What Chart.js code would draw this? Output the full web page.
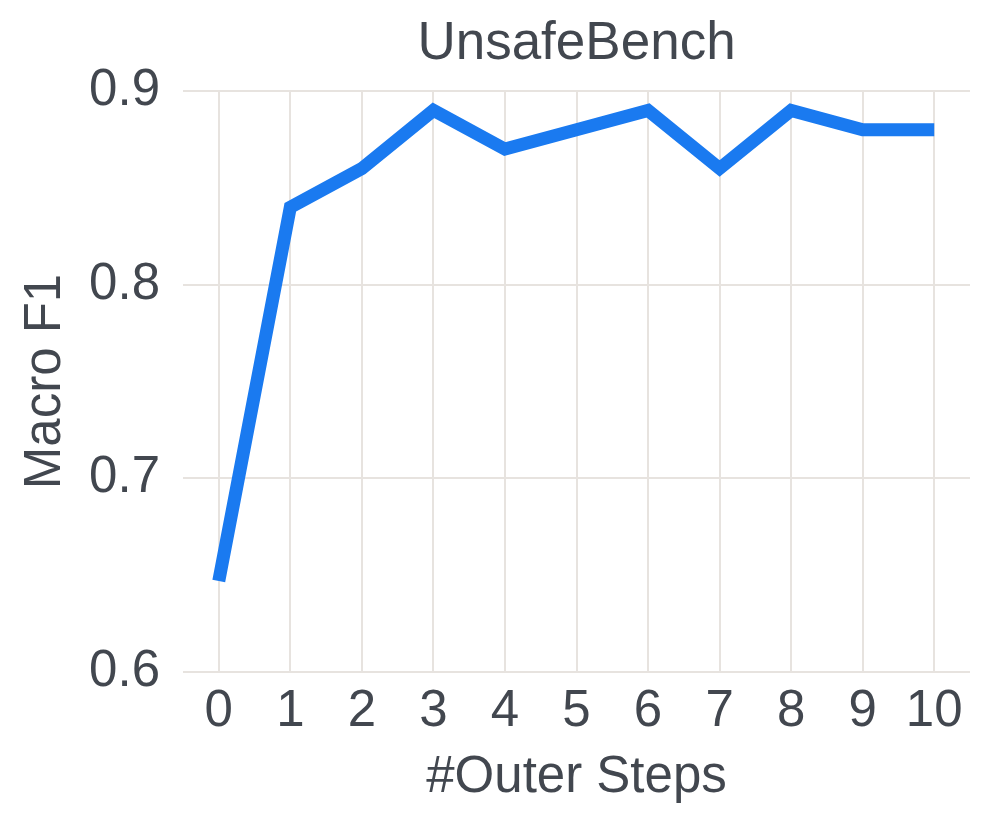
<!DOCTYPE html>
<html>
<head>
<meta charset="utf-8">
<script src="https://cdn.jsdelivr.net/npm/chart.js@4"></script>
<style>
  html, body { margin: 0; padding: 0; background: #fff; }
  #wrap { width: 995px; height: 832px; }
</style>
</head>
<body>
<div id="wrap"><canvas id="myChart" width="995" height="832"></canvas></div>
<script>
// values
const steps = [0, 1, 2, 3, 4, 5, 6, 7, 8, 9, 10];
const macroF1 = [0.647, 0.84, 0.86, 0.89, 0.87, 0.88, 0.89, 0.86, 0.89, 0.88, 0.88];
const yTicks = [0.6, 0.7, 0.8, 0.9];

const textColor = '#42474f';
const gridColor = '#e7e3df';
const fontFamily = '"Liberation Sans", Arial, sans-serif';

var points = steps.map((s, i) => ({ x: s, y: macroF1[i] }));

var ctx = document.getElementById('myChart').getContext('2d');
var myChart = new Chart(ctx, {
    type: 'line',
    data: {
        datasets: [{
            label: 'Macro F1',
            data: points,
            borderColor: '#1a7af0',
            borderWidth: 13,
            borderCapStyle: 'butt',
            borderJoinStyle: 'miter',
            pointRadius: 0,
            tension: 0,
            fill: false
        }]
    },
    options: {
        responsive: false,
        animation: false,
        layout: { padding: { left: 0, right: 25, top: 0, bottom: 0 } },
        plugins: {
            legend: { display: false },
            tooltip: { enabled: false },
            title: { display: false }
        },
        scales: {
            // top axis only carries the chart title, so it is centred over the plot area
            top: {
                type: 'linear',
                position: 'top',
                min: -0.5,
                max: 10.5,
                afterFit: function (scale) { scale.height = 91; },
                ticks: { display: false },
                grid: { display: false, drawTicks: false },
                border: { display: false },
                title: {
                    display: true,
                    text: 'UnsafeBench',
                    color: textColor,
                    font: { family: fontFamily, size: 53 },
                    padding: { top: 13, bottom: 0 }
                }
            },
            x: {
                type: 'linear',
                min: -0.5,
                max: 10.5,
                afterBuildTicks: function (scale) {
                    scale.ticks = steps.map(v => ({ value: v }));
                },
                afterFit: function (scale) { scale.height = 160; },
                ticks: {
                    color: textColor,
                    font: { family: fontFamily, size: 51 },
                    padding: 9,
                    maxRotation: 0,
                    autoSkip: false,
                    callback: function (value) { return String(value); }
                },
                grid: { color: gridColor, lineWidth: 2, drawTicks: false },
                border: { display: false },
                title: {
                    display: true,
                    text: '#Outer Steps',
                    color: textColor,
                    font: { family: fontFamily, size: 51 },
                    padding: { top: 0, bottom: 23 }
                }
            },
            y: {
                min: 0.6,
                max: 0.9,
                afterBuildTicks: function (scale) {
                    scale.ticks = yTicks.map(v => ({ value: v }));
                },
                afterFit: function (scale) { scale.width = 183; },
                ticks: {
                    color: textColor,
                    font: { family: fontFamily, size: 51 },
                    padding: 23,
                    callback: function (value) { return value.toFixed(1); }
                },
                grid: { color: gridColor, lineWidth: 2, drawTicks: false },
                border: { display: false },
                title: {
                    display: true,
                    text: 'Macro F1',
                    color: textColor,
                    font: { family: fontFamily, size: 51 },
                    padding: { top: 15, bottom: 0 }
                }
            }
        }
    }
});
</script>
</body>
</html>
